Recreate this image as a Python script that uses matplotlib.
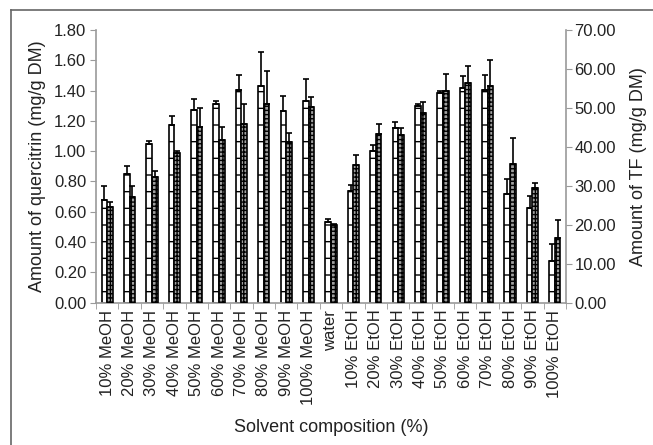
import matplotlib
matplotlib.use("Agg")
import matplotlib.pyplot as plt
import numpy as np
from matplotlib.lines import Line2D
from matplotlib.ticker import FormatStrFormatter, MultipleLocator, FixedLocator

plt.rcParams['font.family'] = ['Liberation Sans', 'DejaVu Sans']
plt.rcParams['hatch.linewidth'] = 1.0

categories = ["10% MeOH", "20% MeOH", "30% MeOH", "40% MeOH", "50% MeOH",
              "60% MeOH", "70% MeOH", "80% MeOH", "90% MeOH", "100% MeOH",
              "water", "10% EtOH", "20% EtOH", "30% EtOH", "40% EtOH",
              "50% EtOH", "60% EtOH", "70% EtOH", "80% EtOH", "90% EtOH",
              "100% EtOH"]
quercitrin = [0.68, 0.85, 1.05, 1.175, 1.27, 1.31, 1.405, 1.43, 1.265, 1.33,
              0.53, 0.74, 1.00, 1.155, 1.30, 1.385, 1.415, 1.405, 0.715, 0.625, 0.275]
quercitrin_err = [0.09, 0.05, 0.02, 0.06, 0.075, 0.02, 0.10, 0.225, 0.10, 0.145,
                  0.02, 0.04, 0.04, 0.04, 0.01, 0.01, 0.08, 0.10, 0.10, 0.08, 0.115]
tf = [24.6, 27.1, 32.3, 38.4, 45.0, 41.8, 45.8, 50.9, 41.3, 50.2,
      20.0, 35.3, 43.3, 43.0, 48.7, 54.4, 56.5, 55.6, 35.6, 29.4, 16.5]
tf_err = [1.2, 2.8, 1.5, 0.5, 4.9, 3.4, 5.2, 8.6, 2.2, 2.6,
          0.3, 2.5, 2.5, 1.8, 2.7, 4.4, 4.3, 6.7, 6.7, 1.2, 4.7]

fig = plt.figure(figsize=(6.53, 4.45), dpi=100)
ax = fig.add_axes([0.147, 0.3198, 0.7198, 0.6128])
ax2 = ax.twinx()

x = np.arange(len(categories))
w = 0.25
spine_c = '#9a9a9a'
text_c = '#222222'

ax.bar(x - w / 2, quercitrin, width=w, color='white', edgecolor='black',
       linewidth=1.2, hatch='-', zorder=2)
ax.errorbar(x - w / 2, quercitrin, yerr=[np.zeros(len(x)), quercitrin_err],
            fmt='none', ecolor='black', elinewidth=1.2, capsize=2.2, capthick=1.2, zorder=3)

ax2.bar(x + w / 2, tf, width=w, color='#a0a0a0', edgecolor='black',
        linewidth=1.2, hatch='++++', zorder=2)
ax2.errorbar(x + w / 2, tf, yerr=[np.zeros(len(x)), tf_err],
             fmt='none', ecolor='black', elinewidth=1.2, capsize=2.2, capthick=1.2, zorder=3)

ax.set_xlim(-0.5, len(categories) - 0.5)
ax.set_ylim(0, 1.8)
ax2.set_ylim(0, 70)
ax.yaxis.set_major_locator(MultipleLocator(0.2))
ax.yaxis.set_major_formatter(FormatStrFormatter('%.2f'))
ax2.yaxis.set_major_locator(MultipleLocator(10))
ax2.yaxis.set_major_formatter(FormatStrFormatter('%.2f'))

ax.set_xticks(x)
ax.set_xticklabels(categories, rotation=90, fontsize=12, color=text_c)
ax.xaxis.set_minor_locator(FixedLocator(np.arange(-0.5, len(categories), 1.0)))
ax.tick_params(axis='x', which='major', length=0, pad=5)
ax.tick_params(axis='x', which='minor', length=4, color=spine_c, direction='out')
ax.tick_params(axis='y', length=4, color=spine_c, labelsize=12, labelcolor=text_c, pad=3)
ax2.tick_params(axis='y', length=4, color=spine_c, labelsize=12, labelcolor=text_c, pad=2)

for a in (ax, ax2):
    a.spines['top'].set_visible(False)
    for s in ('left', 'right', 'bottom'):
        a.spines[s].set_color(spine_c)
        a.spines[s].set_linewidth(1.2)
ax.spines['right'].set_visible(False)
ax2.spines['left'].set_visible(False)
ax2.spines['bottom'].set_visible(False)

ax.set_ylabel('Amount of quercitrin (mg/g DM)', fontsize=13, color=text_c, labelpad=6)
ax2.set_ylabel('Amount of TF (mg/g DM)', fontsize=13, color=text_c, labelpad=10)
fig.text(0.507, 0.04, 'Solvent composition (%)', ha='center', va='center',
         fontsize=13, color=text_c)

# outer frame (top and left lines)
fig.add_artist(Line2D([11 / 653, 1.0], [1 - 10 / 445, 1 - 10 / 445],
                      transform=fig.transFigure, color='#666666', lw=1.2))
fig.add_artist(Line2D([11 / 653, 11 / 653], [0, 1 - 10 / 445],
                      transform=fig.transFigure, color='#666666', lw=1.2))

fig.savefig('out.png', dpi=100)
